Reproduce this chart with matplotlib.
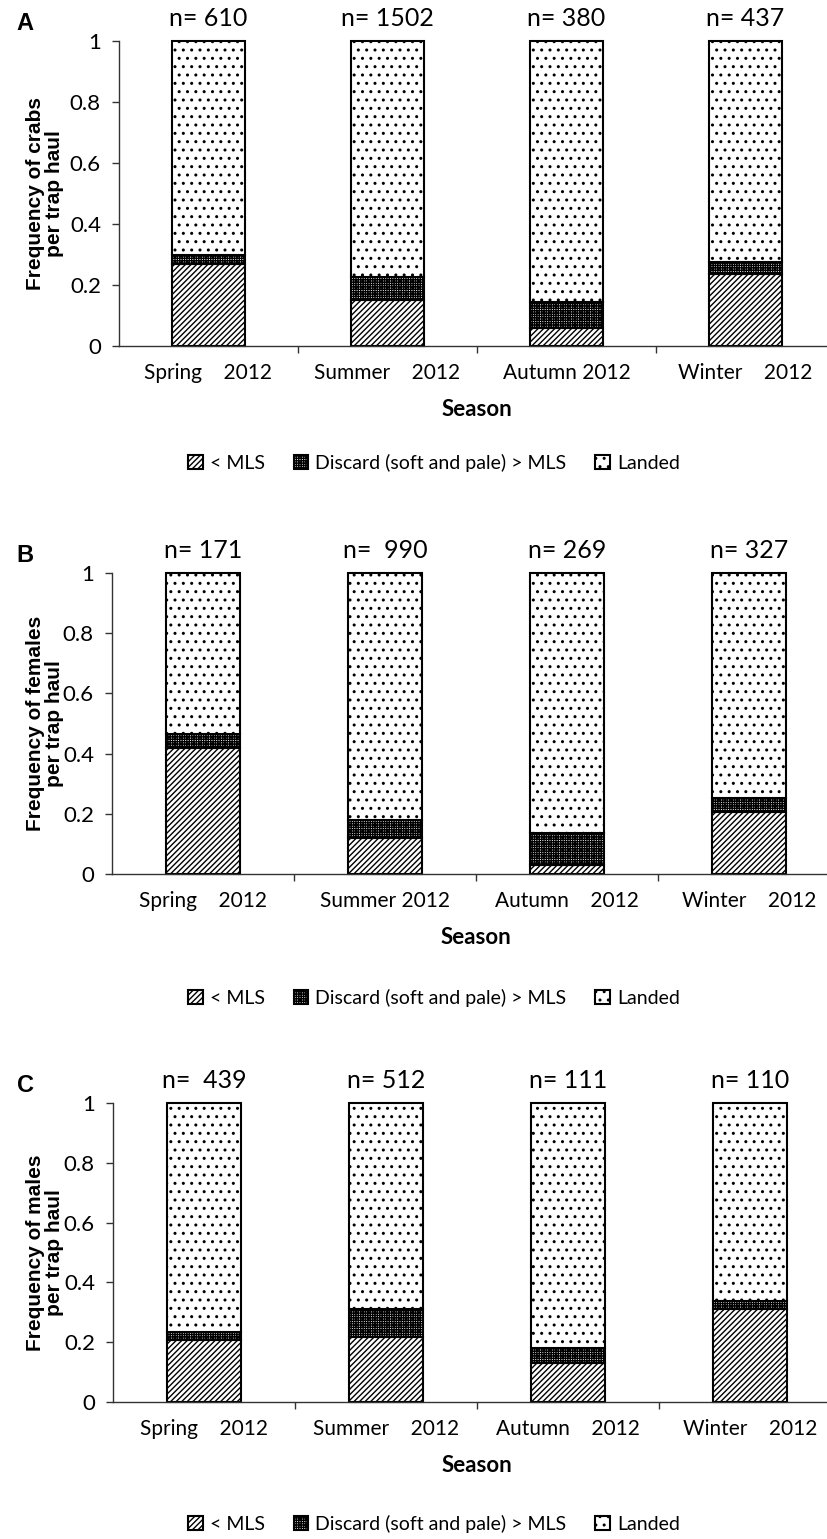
import matplotlib.pyplot as plt

# figure size in pixels (saved at 100 dpi)
W, H = 827, 1539
PT = 0.72  # points per pixel at 100 dpi

plt.rcParams['font.family'] = ['Lato', 'DejaVu Sans']
plt.rcParams['hatch.linewidth'] = 1.0

legend_labels = ['< MLS', 'Discard (soft and pale) > MLS', 'Landed']

# A - all crabs
ticks_a = ['Spring    2012', 'Summer    2012', 'Autumn 2012', 'Winter    2012']
n_a = ['n= 610', 'n= 1502', 'n= 380', 'n= 437']
mls_a = [0.268, 0.150, 0.060, 0.235]
discard_a = [0.030, 0.076, 0.085, 0.040]
landed_a = [0.702, 0.774, 0.855, 0.725]

# B - females
ticks_b = ['Spring    2012', 'Summer 2012', 'Autumn    2012', 'Winter    2012']
n_b = ['n= 171', 'n=  990', 'n= 269', 'n= 327']
mls_b = [0.420, 0.118, 0.030, 0.207]
discard_b = [0.045, 0.062, 0.105, 0.045]
landed_b = [0.535, 0.820, 0.865, 0.748]

# C - males
ticks_c = ['Spring    2012', 'Summer    2012', 'Autumn    2012', 'Winter    2012']
n_c = ['n=  439', 'n= 512', 'n= 111', 'n= 110']
mls_c = [0.207, 0.217, 0.131, 0.310]
discard_c = [0.028, 0.095, 0.050, 0.028]
landed_c = [0.765, 0.688, 0.819, 0.662]

fig = plt.figure(figsize=(W / 100, H / 100), dpi=100)


def panel(letter, left, top, step, bottom, mls, discard, landed, ticklabels, nlabels, ylabel, legend_y):
    width = step * len(ticklabels)
    ax = fig.add_axes([left / W, 1 - bottom / H, width / W, (bottom - top) / H])
    x = list(range(len(ticklabels)))
    kw = dict(width=0.41, color='white', edgecolor='black', linewidth=1.5, clip_on=False)
    b1 = ax.bar(x, mls, hatch='//////', **kw)
    b2 = ax.bar(x, discard, bottom=mls, hatch='+++++++', **kw)
    tops = [m + d for m, d in zip(mls, discard)]
    b3 = ax.bar(x, landed, bottom=tops, hatch='..', **kw)

    ax.set_xlim(-0.5, len(x) - 0.5)
    ax.set_ylim(0, 1)
    for s in ['top', 'right']:
        ax.spines[s].set_visible(False)
    for s in ['left', 'bottom']:
        ax.spines[s].set_color('#333333')
        ax.spines[s].set_linewidth(1.0)

    ax.set_yticks([0, 0.2, 0.4, 0.6, 0.8, 1.0])
    ax.set_yticklabels(['0', '0.2', '0.4', '0.6', '0.8', '1'])
    ax.tick_params(axis='y', length=5, width=1, color='#333333', pad=8, labelsize=16)
    ax.set_xticks(x)
    ax.set_xticklabels(ticklabels)
    ax.set_xticks([i + 0.5 for i in x[:-1]], minor=True)
    ax.tick_params(axis='x', which='major', length=0, pad=12, labelsize=15)
    ax.tick_params(axis='x', which='minor', length=5, width=1, color='#333333')

    for xi, lab in zip(x, nlabels):
        ax.annotate(lab, (xi, 1), xytext=(0, 22 * PT), textcoords='offset points',
                    ha='center', va='center', fontsize=18)

    ax.annotate('Season', (0.5, 0), xycoords='axes fraction', xytext=(0, -64 * PT),
                textcoords='offset points', ha='center', va='center',
                fontsize=16, fontweight='bold')

    ax.set_ylabel(ylabel, family='Liberation Sans', fontweight='bold', fontsize=15,
                  linespacing=1.0)
    ax.yaxis.set_label_coords((64 - left) / width, 0.5)

    fig.text(25 / W, 1 - (top - 18) / H, letter, family='Liberation Sans',
             fontweight='bold', fontsize=17, ha='center', va='center')

    fig.legend([b1, b2, b3], legend_labels, loc='center',
               bbox_to_anchor=(434 / W, 1 - legend_y / H), ncol=3, frameon=False,
               fontsize=14, handlelength=0.75, handleheight=0.75,
               handletextpad=0.35, columnspacing=1.5)


panel('A', 119, 41, 179, 346, mls_a, discard_a, landed_a, ticks_a, n_a,
      'Frequency of crabs\nper trap haul', 463)
panel('B', 112, 573, 182, 874, mls_b, discard_b, landed_b, ticks_b, n_b,
      'Frequency of females\nper trap haul', 998)
panel('C', 113, 1103, 182, 1402, mls_c, discard_c, landed_c, ticks_c, n_c,
      'Frequency of males\nper trap haul', 1524)

fig.savefig('out.png', dpi=100)
